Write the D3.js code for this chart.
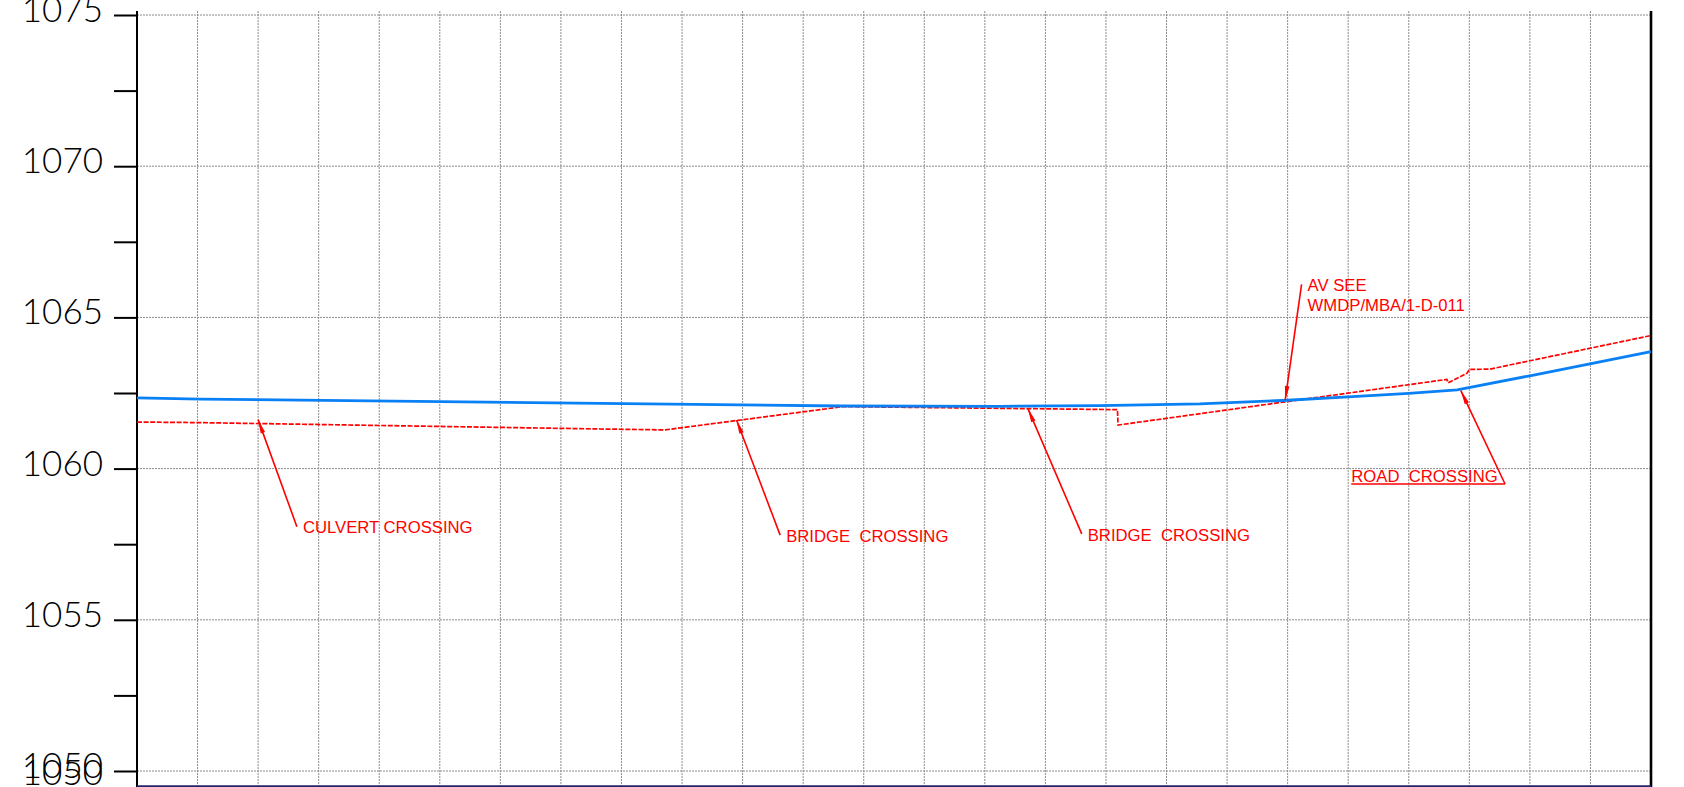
<!DOCTYPE html>
<html><head><meta charset="utf-8">
<script src="https://cdn.jsdelivr.net/npm/d3@7"></script>
<style>html,body{margin:0;padding:0;background:#fff;overflow:hidden}</style>
</head><body><svg id="c" width="1684" height="787"></svg>
<script>
// ---- data ----
const waterChainage = [0, 105, 765, 1165, 1425, 1590, 1755, 1900, 2000, 2100, 2180, 2300, 2500];
const waterLevel    = [1062.34, 1062.30, 1062.16, 1062.07, 1062.06, 1062.08, 1062.14, 1062.26, 1062.37, 1062.49, 1062.60, 1063.07, 1063.87];
const bedChainage   = [0, 105, 765, 872, 1166, 1619, 1620, 2163, 2165, 2196, 2200, 2234, 2500];
const bedLevel      = [1061.54, 1061.52, 1061.31, 1061.28, 1062.05, 1061.95, 1061.44, 1062.95, 1062.84, 1063.15, 1063.28, 1063.29, 1064.40];
const yTickValues   = [1050, 1052.5, 1055, 1057.5, 1060, 1062.5, 1065, 1067.5, 1070, 1072.5, 1075];
const yMajorLabels  = [1050, 1055, 1060, 1065, 1070, 1075];
const gridChainage  = d3.range(100, 2500, 100);
const annLabels     = [["CULVERT CROSSING"], ["BRIDGE  CROSSING"], ["BRIDGE  CROSSING"], ["AV SEE", "WMDP/MBA/1-D-011"], ["ROAD  CROSSING"]];
const annTipCh      = [200, 990, 1471, 1896, 2186];
const annTipLv      = [1061.62, 1061.61, 1061.99, 1062.27, 1062.58];
const annElbowCh    = [264, 1062, 1560, 1923, 2259];
const annElbowLv    = [1058.08, 1057.80, 1057.84, 1066.09, 1059.49];
const annUnderlineFrom = [null, null, null, null, 2005];

// ---- scales ----
const x = d3.scaleLinear().domain([0, 2500]).range([137, 1651]);
const y = d3.scaleLinear().domain([1050, 1075]).range([771, 15]);
const frameTop = 1075.13, frameBottom = 1049.47;

const svg = d3.select('#c');
const red = '#ff0000';

// grid
const grid = svg.append('g').attr('stroke', '#8a8a8a').attr('stroke-width', 1).attr('stroke-dasharray', '2,1');
grid.selectAll('line.v').data(gridChainage).join('line')
  .attr('x1', d => x(d)).attr('x2', d => x(d))
  .attr('y1', y(frameTop)).attr('y2', y(frameBottom));
grid.selectAll('line.h').data(yMajorLabels).join('line')
  .attr('x1', x(0)).attr('x2', x(2500))
  .attr('y1', d => y(d)).attr('y2', d => y(d));

// y axis
const labelFont = 'Lato, "DejaVu Sans", sans-serif';
const yAxis = d3.axisLeft(y).tickValues(yTickValues).tickSize(23)
  .tickFormat(d => yMajorLabels.includes(d) ? String(d) : '');
const ga = svg.append('g').attr('transform', `translate(${x(0)},0)`).call(yAxis);
ga.select('.domain').remove();
ga.selectAll('.tick line').attr('stroke', '#000').attr('stroke-width', 2);
ga.selectAll('.tick text').attr('x', -34).attr('dy', null).attr('y', 6.4)
  .attr('fill', '#000').style('font-family', labelFont)
  .style('font-weight', 300).style('font-size', '35px');
// overlapping label from the next sheet
svg.append('text').attr('x', x(0) - 34).attr('y', y(1050) + 14.4).attr('text-anchor', 'end')
  .attr('fill', '#000').style('font-family', labelFont)
  .style('font-weight', 300).style('font-size', '35px').text('1050');

// frame lines
svg.append('line').attr('x1', x(0)).attr('x2', x(0)).attr('y1', y(frameTop)).attr('y2', y(frameBottom))
  .attr('stroke', '#000').attr('stroke-width', 2);
svg.append('line').attr('x1', x(2500)).attr('x2', x(2500)).attr('y1', y(frameTop)).attr('y2', y(frameBottom))
  .attr('stroke', '#000').attr('stroke-width', 2.6);
svg.append('line').attr('x1', x(0)).attr('x2', x(2500)).attr('y1', y(1049.5)).attr('y2', y(1049.5))
  .attr('stroke', '#24246a').attr('stroke-width', 1.6);

// bed line (red dashed)
const line = d3.line().x(d => x(d[0])).y(d => y(d[1]));
svg.append('path').datum(bedChainage.map((c, i) => [c, bedLevel[i]]))
  .attr('d', line).attr('fill', 'none').attr('stroke', red)
  .attr('stroke-width', 1.7).attr('stroke-dasharray', '5,1.6');

// water line (blue)
svg.append('path').datum(waterChainage.map((c, i) => [c, waterLevel[i]]))
  .attr('d', line).attr('fill', 'none').attr('stroke', '#0a80f5')
  .attr('stroke-width', 2.8).attr('stroke-linejoin', 'round');

// annotations
const ann = svg.append('g');
annLabels.forEach((lbl, i) => {
  const tx = x(annTipCh[i]), ty = y(annTipLv[i]);
  const ex = x(annElbowCh[i]), ey = y(annElbowLv[i]);
  ann.append('line').attr('x1', ex).attr('y1', ey).attr('x2', tx).attr('y2', ty)
    .attr('stroke', red).attr('stroke-width', 1.6);
  const dx = tx - ex, dy = ty - ey, L = Math.hypot(dx, dy);
  const ux = dx / L, uy = dy / L, nx = -uy, ny = ux;
  const bx = tx - ux * 14, by = ty - uy * 14;
  ann.append('path').attr('d', `M${tx},${ty}L${bx + nx * 2.3},${by + ny * 2.3}L${bx - nx * 2.3},${by - ny * 2.3}Z`)
    .attr('fill', red);
  const t = ann.append('text').attr('fill', red).attr('xml:space', 'preserve')
    .style('white-space', 'pre')
    .style('font-family', '"Liberation Sans", Arial, sans-serif').style('font-size', '16.7px');
  if (annUnderlineFrom[i] !== null) {
    const ux0 = x(annUnderlineFrom[i]);
    ann.append('line').attr('x1', ux0).attr('x2', ex).attr('y1', ey).attr('y2', ey)
      .attr('stroke', red).attr('stroke-width', 1.6);
    t.attr('x', ux0).attr('y', ey - 2.5).text(lbl[0]);
  } else {
    lbl.forEach((s, k) => {
      t.append('tspan').attr('x', ex + 6).attr('y', ey + 6.8 + k * 20).text(s);
    });
  }
});
</script></body></html>
